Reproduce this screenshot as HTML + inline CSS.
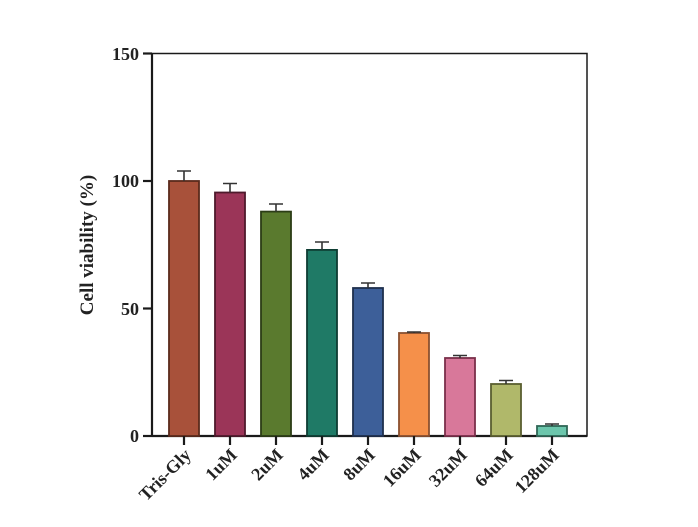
<!DOCTYPE html>
<html><head><meta charset="utf-8"><style>body{margin:0;background:#fff}svg{display:block}</style></head><body>
<svg width="698" height="527" xmlns="http://www.w3.org/2000/svg" font-family="Liberation Serif, serif" font-weight="bold">
<rect x="152" y="53.5" width="435" height="382.5" fill="none" stroke="#1a1a1a" stroke-width="1.5"/>
<g stroke="#1a1a1a" stroke-width="2.2">
<line x1="152" y1="53.5" x2="152" y2="436"/>
<line x1="152" y1="436" x2="587" y2="436"/>
<line x1="143" y1="53.5" x2="152" y2="53.5"/>
<line x1="143" y1="181" x2="152" y2="181"/>
<line x1="143" y1="308.5" x2="152" y2="308.5"/>
<line x1="143" y1="436" x2="152" y2="436"/>
</g>
<g font-size="18" text-anchor="end" fill="#222">
<text x="139" y="60">150</text><text x="139" y="187">100</text><text x="139" y="315">50</text><text x="139" y="442">0</text>
</g>
<text transform="translate(93,245) rotate(-90)" text-anchor="middle" font-size="19" fill="#222">Cell viability (%)</text>
<g stroke-width="1.8">
<rect x="169" y="181" width="30" height="255" fill="#a8513a" stroke="#5a2a1c"/>
<rect x="215" y="192.5" width="30" height="243.5" fill="#9b3558" stroke="#4e1a2c"/>
<rect x="261" y="211.6" width="30" height="224.4" fill="#5a7a2e" stroke="#2c3d16"/>
<rect x="307" y="249.9" width="30" height="186.1" fill="#1f7a66" stroke="#0e3d33"/>
<rect x="353" y="288" width="30" height="148" fill="#3d5f99" stroke="#1e2f4d"/>
<rect x="399" y="333" width="30" height="103" fill="#f5904a" stroke="#8a5030"/>
<rect x="445" y="358" width="30" height="78" fill="#d8789a" stroke="#7a2f4a"/>
<rect x="491" y="384" width="30" height="52" fill="#b0b86a" stroke="#5a5e30"/>
<rect x="537" y="426" width="30" height="10" fill="#6cc6ac" stroke="#2f6656"/>
</g>
<g stroke="#333" stroke-width="1.6">
<path d="M184 181V171M177 171H191"/>
<path d="M230 192.5V183.5M223 183.5H237"/>
<path d="M276 211.6V204M269 204H283"/>
<path d="M322 249.9V242M315 242H329"/>
<path d="M368 288V283M361 283H375"/>
<path d="M414 333V332M407 332H421"/>
<path d="M460 358V355.5M453 355.5H467"/>
<path d="M506 384V380.5M499 380.5H513"/>
<path d="M552 426V424M545 424H559"/>
</g>
<g stroke="#1a1a1a" stroke-width="2.2">
<path d="M184 436v9M230 436v9M276 436v9M322 436v9M368 436v9M414 436v9M460 436v9M506 436v9M552 436v9"/>
</g>
<g font-size="18" text-anchor="end" fill="#222">
<text transform="translate(192,456) rotate(-45)">Tris-Gly</text>
<text transform="translate(238,456) rotate(-45)">1uM</text>
<text transform="translate(284,456) rotate(-45)">2uM</text>
<text transform="translate(330,456) rotate(-45)">4uM</text>
<text transform="translate(376,456) rotate(-45)">8uM</text>
<text transform="translate(422,456) rotate(-45)">16uM</text>
<text transform="translate(468,456) rotate(-45)">32uM</text>
<text transform="translate(514,456) rotate(-45)">64uM</text>
<text transform="translate(560,456) rotate(-45)">128uM</text>
</g>
</svg>
</body></html>
